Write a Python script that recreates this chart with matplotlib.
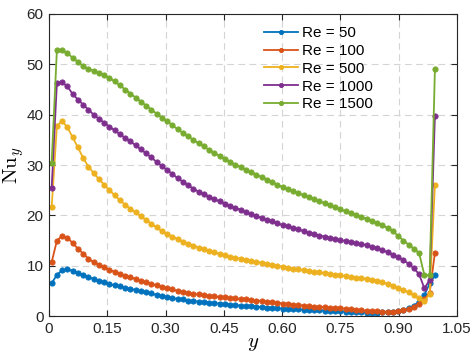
import numpy as np
import matplotlib
matplotlib.use('Agg')
import matplotlib.pyplot as plt

plt.rcParams['font.family'] = ['Liberation Sans', 'DejaVu Sans']
plt.rcParams['mathtext.fontset'] = 'cm'

# cell-centre positions across the channel
n_pts = 74
y_pos = (np.arange(n_pts) + 0.5) / n_pts

nu_50 = [6.5, 8.2, 9.1, 9.3, 9.0, 8.6, 8.1, 7.7, 7.4, 7.0,
         6.7, 6.4, 6.1, 5.9, 5.6, 5.4, 5.2, 4.9, 4.7, 4.5,
         4.2, 4.0, 3.8, 3.6, 3.4, 3.3, 3.1, 3.0, 2.9, 2.8,
         2.7, 2.6, 2.5, 2.4, 2.3, 2.2, 2.1, 2.0, 1.95, 1.9,
         1.8, 1.7, 1.65, 1.6, 1.5, 1.45, 1.4, 1.35, 1.3, 1.25,
         1.2, 1.15, 1.1, 1.05, 1.0, 0.95, 0.9, 0.85, 0.8, 0.75,
         0.7, 0.7, 0.7, 0.75, 0.8, 0.9, 1.1, 1.3, 1.6, 2.1,
         2.9, 4.2, 6.5, 8.1]

nu_100 = [10.7, 15.0, 15.9, 15.6, 14.5, 13.4, 12.4, 11.4, 10.7, 10.2,
          9.7, 9.2, 8.8, 8.4, 8.0, 7.7, 7.4, 7.0, 6.7, 6.4,
          6.1, 5.8, 5.5, 5.3, 5.0, 4.8, 4.6, 4.4, 4.3, 4.1,
          4.0, 3.9, 3.8, 3.7, 3.6, 3.5, 3.4, 3.3, 3.2, 3.1,
          3.0, 2.9, 2.8, 2.7, 2.5, 2.4, 2.3, 2.2, 2.1, 2.0,
          1.9, 1.85, 1.8, 1.7, 1.65, 1.6, 1.5, 1.4, 1.3, 1.2,
          1.1, 1.0, 0.95, 0.9, 0.85, 0.9, 1.0, 1.2, 1.4, 1.9,
          2.5, 3.4, 4.6, 12.6]

nu_500 = [21.6, 37.8, 38.7, 37.5, 35.5, 33.5, 31.4, 29.7, 28.4, 27.2,
          26.1, 25.0, 24.0, 23.0, 22.1, 21.3, 20.6, 19.8, 19.1, 18.3,
          17.6, 16.9, 16.3, 15.8, 15.3, 14.8, 14.4, 14.0, 13.6, 13.3,
          13.0, 12.7, 12.4, 12.1, 11.8, 11.6, 11.4, 11.2, 11.0, 10.8,
          10.6, 10.4, 10.2, 10.0, 9.8, 9.6, 9.4, 9.3, 9.1, 9.0,
          8.8, 8.7, 8.5, 8.4, 8.2, 8.1, 7.9, 7.8, 7.6, 7.5,
          7.4, 7.2, 7.0, 6.7, 6.4, 6.0, 5.6, 5.2, 4.7, 4.1,
          3.5, 3.0, 4.4, 26.0]

nu_1000 = [25.4, 46.3, 46.4, 45.6, 44.1, 43.0, 42.0, 41.0, 40.0, 39.2,
           38.4, 37.6, 36.9, 36.1, 35.4, 34.7, 33.9, 33.1, 32.3, 31.5,
           30.6, 29.8, 29.0, 28.2, 27.4, 26.7, 26.0, 25.3, 24.7, 24.2,
           23.7, 23.2, 22.8, 22.3, 21.9, 21.5, 21.1, 20.7, 20.3, 19.9,
           19.5, 19.1, 18.8, 18.4, 18.1, 17.8, 17.5, 17.2, 16.9, 16.6,
           16.3, 16.0, 15.8, 15.5, 15.3, 15.1, 14.9, 14.7, 14.5, 14.3,
           14.1, 13.8, 13.5, 13.1, 12.7, 12.2, 11.7, 11.1, 10.4, 9.5,
           8.3, 5.5, 7.2, 39.7]

nu_1500 = [30.5, 52.9, 52.8, 52.2, 51.3, 50.5, 49.6, 49.1, 48.7, 48.3,
           47.9, 47.3, 46.6, 45.8, 45.0, 44.2, 43.4, 42.6, 41.8, 41.0,
           40.2, 39.4, 38.7, 37.9, 37.1, 36.4, 35.7, 35.0, 34.3, 33.7,
           33.0, 32.4, 31.8, 31.2, 30.6, 30.1, 29.6, 29.1, 28.6, 28.1,
           27.6, 27.1, 26.6, 26.1, 25.6, 25.2, 24.8, 24.4, 24.0, 23.6,
           23.2, 22.8, 22.4, 22.0, 21.6, 21.2, 20.8, 20.5, 20.1, 19.7,
           19.3, 18.9, 18.5, 18.0, 17.5, 16.9, 15.9, 15.0, 14.2, 13.4,
           12.5, 8.1, 8.1, 49.0]

labels = ['Re = 50', 'Re = 100', 'Re = 500', 'Re = 1000', 'Re = 1500']
colors = ['#0072BD', '#D95319', '#EDB120', '#7E2F8E', '#77AC30']
series = [nu_50, nu_100, nu_500, nu_1000, nu_1500]

xticks = [0, 0.15, 0.30, 0.45, 0.60, 0.75, 0.90, 1.05]
xtick_labels = ['0', '0.15', '0.30', '0.45', '0.60', '0.75', '0.90', '1.05']

fig = plt.figure(figsize=(4.76, 3.58), dpi=100)
ax = fig.add_axes([0.103, 0.117, 0.857, 0.844])

for vals, lab, c in zip(series, labels, colors):
    ax.plot(y_pos, vals, '-o', color=c, lw=1.3, ms=3.8, mfc=c, mec=c,
            mew=0.6, label=lab)

ax.set_xlim(0, 1.05)
ax.set_ylim(0, 60)
ax.set_xticks(xticks)
ax.set_xticklabels(xtick_labels)
ax.set_yticks(range(0, 61, 10))
ax.tick_params(direction='in', top=True, right=True, length=4, width=0.8,
               labelsize=11, colors='#262626', pad=4)
for s in ax.spines.values():
    s.set_linewidth(0.8)
    s.set_color('#262626')
ax.grid(True, color='#d4d4d4', lw=0.8, ls=(0, (6, 4)))
ax.set_axisbelow(True)

ax.set_xlabel(r'$y$', fontsize=15, labelpad=-1)
ax.set_ylabel(r'$\mathrm{Nu}_y$', fontsize=15, labelpad=0)

ax.legend(loc='upper left', bbox_to_anchor=(0.505, 0.99), frameon=False,
          fontsize=11, handlelength=2.2, handletextpad=0.3, labelspacing=0.25,
          borderaxespad=0.2, numpoints=1, markerscale=0.8)

plt.savefig('out.png', dpi=100)
